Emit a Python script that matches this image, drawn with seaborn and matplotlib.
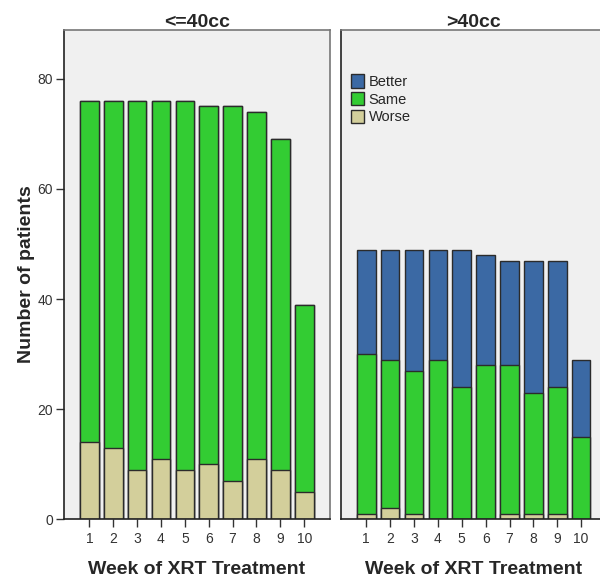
import numpy as np
import pandas as pd
import seaborn as sns
import matplotlib.pyplot as plt

weeks = ["1", "2", "3", "4", "5", "6", "7", "8", "9", "10"]
groups = ["<=40cc", ">40cc"]

# counts per week
small_worse = [14, 13, 9, 11, 9, 10, 7, 11, 9, 5]
small_same = [62, 63, 67, 65, 67, 65, 68, 63, 60, 34]
small_better = [0, 0, 0, 0, 0, 0, 0, 0, 0, 0]

large_worse = [1, 2, 1, 0, 0, 0, 1, 1, 1, 0]
large_same = [29, 27, 26, 29, 24, 28, 27, 22, 23, 15]
large_better = [19, 20, 22, 20, 25, 20, 19, 24, 23, 14]

colors = {"Better": "#3b69a4", "Same": "#33cc33", "Worse": "#d3cf9b"}

sns.set_style("white")
plt.rcParams["font.family"] = ["Liberation Sans", "DejaVu Sans"]

fig = plt.figure(figsize=(6, 5.82), dpi=100)
ax1 = fig.add_axes([0.1067, 0.1082, 0.4425, 0.8402])
ax2 = fig.add_axes([0.5683, 0.1082, 0.4425, 0.8402])

data = {
    "<=40cc": (small_worse, small_same, small_better),
    ">40cc": (large_worse, large_same, large_better),
}

for ax, g in zip([ax1, ax2], groups):
    worse, same, better = data[g]
    worse = np.array(worse)
    same = np.array(same)
    better = np.array(better)
    df = pd.DataFrame({
        "week": weeks,
        "Better": worse + same + better,
        "Same": worse + same,
        "Worse": worse,
    })
    for cat in ["Better", "Same", "Worse"]:
        sns.barplot(data=df, x="week", y=cat, color=colors[cat], saturation=1,
                    edgecolor="#2b2b2b", linewidth=1.0, width=0.78, ax=ax,
                    label=cat)
    ax.set_facecolor("#f0f0f0")
    ax.set_xlim(-1.06, 10.06)
    ax.set_ylim(0, 88.9)
    ax.set_title(g, fontsize=14, fontweight="bold", pad=2)
    ax.set_xlabel("Week of XRT Treatment", fontsize=14, fontweight="bold", labelpad=11)
    ax.set_ylabel("")
    ax.tick_params(axis="x", bottom=True, length=6, width=1, color="#333333",
                   labelsize=10, labelcolor="#333333", pad=3)
    for side in ["top", "right"]:
        ax.spines[side].set_color("#777777")
        ax.spines[side].set_linewidth(1.2)
    for side in ["left", "bottom"]:
        ax.spines[side].set_color("#222222")
        ax.spines[side].set_linewidth(1.2)

ax1.set_yticks([0, 20, 40, 60, 80])
ax1.tick_params(axis="y", left=True, length=6, width=1, color="#333333",
                labelsize=10, labelcolor="#333333", pad=2)
ax1.set_ylabel("Number of patients", fontsize=14, fontweight="bold", labelpad=2)
ax2.set_yticks([])
if ax1.legend_:
    ax1.legend_.remove()
ax2.legend(loc="upper left", bbox_to_anchor=(0.0, 0.93), frameon=False,
           fontsize=10.5, handlelength=0.9, handleheight=1.0, handletextpad=0.3,
           labelspacing=0.22, borderaxespad=0.3)

fig.savefig("out.png", dpi=100)
